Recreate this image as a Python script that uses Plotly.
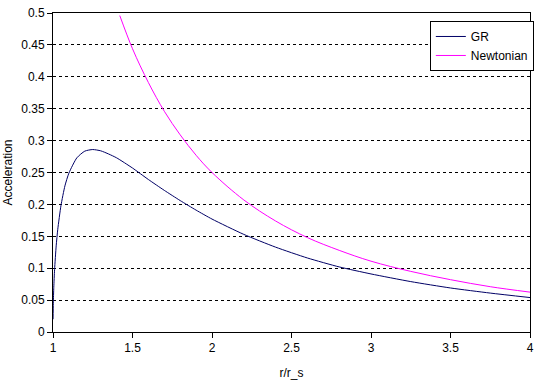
import plotly.graph_objects as go

gr_r = [1.0004, 1.002, 1.005, 1.01, 1.02, 1.03, 1.05, 1.075, 1.1, 1.15, 1.2, 1.25, 1.3, 1.35, 1.4,
        1.5, 1.6, 1.7, 1.8, 1.9, 2.0, 2.2, 2.4, 2.6, 2.8, 3.0, 3.25, 3.5, 3.75, 4.0]
gr_acc = [0.020, 0.045, 0.070, 0.098, 0.135, 0.161, 0.198, 0.229, 0.249, 0.273, 0.2835, 0.286, 0.284,
          0.279, 0.273, 0.257, 0.239, 0.222, 0.206, 0.191, 0.177, 0.153, 0.133, 0.116, 0.102, 0.091,
          0.079, 0.069, 0.061, 0.054]

newt_r = [1.42, 1.5, 1.6, 1.7, 1.8, 1.9, 2.0, 2.2, 2.4, 2.6, 2.8, 3.0, 3.25, 3.5, 3.75, 4.0]
newt_acc = [0.496, 0.444, 0.391, 0.346, 0.309, 0.277, 0.250, 0.207, 0.174, 0.148, 0.128, 0.111,
            0.095, 0.082, 0.071, 0.0625]

font = dict(family="Liberation Sans, Arial, sans-serif", size=12, color="black")

fig = go.Figure()
fig.add_trace(go.Scatter(x=gr_r, y=gr_acc, mode="lines", name="GR",
                         line=dict(color="#000066", width=1, shape="spline", smoothing=0.6)))
fig.add_trace(go.Scatter(x=newt_r, y=newt_acc, mode="lines", name="Newtonian",
                         line=dict(color="#FF00FF", width=1, shape="spline")))

fig.update_layout(
    width=540, height=384,
    margin=dict(l=53, r=6, t=8, b=50),
    paper_bgcolor="white", plot_bgcolor="white",
    font=font,
    showlegend=True,
    legend=dict(x=0.79, y=0.975, xanchor="left", yanchor="top",
                bordercolor="black", borderwidth=1, bgcolor="white",
                font=dict(family="Liberation Sans, Arial, sans-serif", size=12),
                tracegroupgap=0, itemwidth=30),
    xaxis=dict(range=[1, 4], tickvals=[1, 1.5, 2, 2.5, 3, 3.5, 4],
               ticktext=["1", "1.5", "2", "2.5", "3", "3.5", "4"],
               showline=True, linecolor="black", linewidth=1, mirror=True,
               ticks="outside", ticklen=5, tickcolor="black",
               showgrid=False, zeroline=False,
               title=dict(text="r/r_s", standoff=14, font=font)),
    yaxis=dict(range=[0, 0.5], tickvals=[0, 0.05, 0.1, 0.15, 0.2, 0.25, 0.3, 0.35, 0.4, 0.45, 0.5],
               ticktext=["0", "0.05", "0.1", "0.15", "0.2", "0.25", "0.3", "0.35", "0.4", "0.45", "0.5"],
               showline=True, linecolor="black", linewidth=1, mirror=True,
               ticks="outside", ticklen=5, tickcolor="black",
               showgrid=True, gridcolor="black", gridwidth=1, griddash="3px,3px",
               zeroline=False,
               title=dict(text="Acceleration", standoff=6, font=font)),
)

fig.write_html("out.html")
